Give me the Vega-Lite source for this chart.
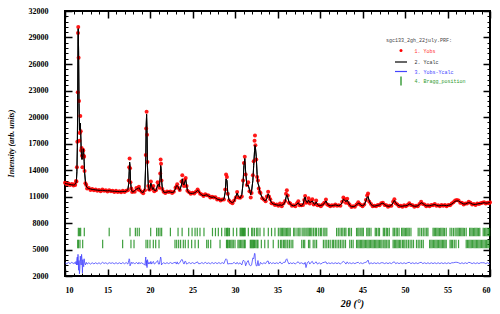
{
"$schema": "https://vega.github.io/schema/vega-lite/v6.json",
"width": 425, "height": 265,
"autosize": {"type": "none"},
"padding": {"left": 65, "top": 11, "right": 10, "bottom": 38},
"background": "white",
"config": {"view": {"stroke": "black", "strokeWidth": 2}, "legend": {"orient": "none", "padding": 0, "labelFont": "Liberation Mono", "labelFontSize": 5, "titleFont": "Liberation Mono", "titleFontSize": 5, "titleFontWeight": "normal", "titleColor": "#444444", "symbolOpacity": 1, "symbolStrokeWidth": 1.2, "legendX": 321}},
"datasets": {
"pat": [
{"t":10.0,"c":12500,"o":12550,"d":3500},{"t":10.2,"c":12450,"o":12380,"d":3380},{"t":10.4,"c":12400,"o":12480,"d":3530},{"t":10.6,"c":12350,"o":12300,"d":3400},{"t":10.8,"c":12320,"o":12420,"d":3550},{"t":11.0,"c":12300,"o":12250,"d":3400},{"t":11.1,"c":12320,"o":12400,"d":3530},{"t":11.2,"c":12380,"o":12300,"d":3370},{"t":11.3,"c":12550,"o":12750,"d":3650},{"t":11.35,"c":12900,"o":12700,"d":3250},{"t":11.4,"c":13800,"o":14300,"d":3950},{"t":11.45,"c":16500,"o":17200,"d":4150},{"t":11.5,"c":23000,"o":22800,"d":3250},{"t":11.53,"c":28500,"o":29500,"d":4450},{"t":11.56,"c":30000,"o":30200,"d":3650},{"t":11.6,"c":27500,"o":26700,"d":2650},{"t":11.65,"c":21500,"o":21800,"d":3750},{"t":11.7,"c":18500,"o":17300,"d":2250},{"t":11.75,"c":18800,"o":18200,"d":2850},{"t":11.8,"c":19300,"o":20100,"d":4250},{"t":11.85,"c":18200,"o":18400,"d":3650},{"t":11.9,"c":16400,"o":16200,"d":3250},{"t":11.95,"c":15500,"o":16500,"d":4450},{"t":12.0,"c":15200,"o":15600,"d":3850},{"t":12.05,"c":15400,"o":14300,"d":2350},{"t":12.1,"c":15900,"o":16300,"d":3850},{"t":12.15,"c":16400,"o":16200,"d":3250},{"t":12.2,"c":16000,"o":15600,"d":3050},{"t":12.25,"c":15000,"o":15500,"d":3950},{"t":12.3,"c":13800,"o":13900,"d":3550},{"t":12.4,"c":12700,"o":12500,"d":3250},{"t":12.5,"c":12200,"o":12300,"d":3550},{"t":12.6,"c":12000,"o":11900,"d":3350},{"t":12.8,"c":11900,"o":11950,"d":3500},
{"t":13.0,"c":11850,"o":11750,"d":3350},{"t":13.2,"c":11800,"o":11850,"d":3500},{"t":13.4,"c":11780,"o":11700,"d":3370},{"t":13.6,"c":11750,"o":11800,"d":3500},{"t":13.8,"c":11720,"o":11650,"d":3380},{"t":14.0,"c":11700,"o":11750,"d":3500},{"t":14.2,"c":11690,"o":11600,"d":3360},{"t":14.4,"c":11700,"o":11800,"d":3550},{"t":14.6,"c":11680,"o":11650,"d":3420},{"t":14.8,"c":11650,"o":11700,"d":3500},{"t":15.0,"c":11640,"o":11560,"d":3370},{"t":15.2,"c":11660,"o":11720,"d":3510},{"t":15.4,"c":11620,"o":11600,"d":3430},{"t":15.6,"c":11600,"o":11650,"d":3500},{"t":15.8,"c":11590,"o":11520,"d":3380},{"t":16.0,"c":11580,"o":11640,"d":3510},{"t":16.2,"c":11560,"o":11500,"d":3390},{"t":16.4,"c":11550,"o":11600,"d":3500},{"t":16.6,"c":11540,"o":11470,"d":3380},{"t":16.8,"c":11580,"o":11650,"d":3520},{"t":17.0,"c":11560,"o":11500,"d":3390},{"t":17.2,"c":11580,"o":11650,"d":3520},{"t":17.4,"c":11800,"o":11700,"d":3350},{"t":17.5,"c":12500,"o":12800,"d":3750},{"t":17.55,"c":13800,"o":14300,"d":3950},{"t":17.6,"c":14900,"o":15300,"d":3850},{"t":17.65,"c":14500,"o":14200,"d":3150},{"t":17.7,"c":12800,"o":12600,"d":3250},{"t":17.8,"c":11800,"o":11900,"d":3550},{"t":17.9,"c":11550,"o":11500,"d":3400},{"t":18.0,"c":11500,"o":11600,"d":3550},{"t":18.2,"c":11650,"o":11550,"d":3350},{"t":18.4,"c":11850,"o":11950,"d":3550},{"t":18.6,"c":11900,"o":11800,"d":3350},{"t":18.7,"c":12000,"o":12100,"d":3550},{"t":18.8,"c":11800,"o":11750,"d":3400},{"t":19.0,"c":11500,"o":11550,"d":3500},{"t":19.2,"c":11450,"o":11380,"d":3380},{"t":19.4,"c":11900,"o":11700,"d":3250},{"t":19.5,"c":15000,"o":15700,"d":4150},{"t":19.55,"c":19000,"o":18700,"d":3150},{"t":19.6,"c":20300,"o":20600,"d":3750},{"t":19.65,"c":18500,"o":18000,"d":2950},{"t":19.7,"c":14500,"o":14900,"d":3850},{"t":19.8,"c":12300,"o":12200,"d":3350},{"t":19.9,"c":11700,"o":11800,"d":3550},
{"t":20.0,"c":11900,"o":11800,"d":3350},{"t":20.1,"c":12500,"o":12700,"d":3650},{"t":20.2,"c":12200,"o":12100,"d":3350},{"t":20.3,"c":11800,"o":11900,"d":3550},{"t":20.4,"c":12000,"o":12200,"d":3650},{"t":20.5,"c":11700,"o":11600,"d":3350},{"t":20.7,"c":11650,"o":11700,"d":3500},{"t":20.9,"c":12300,"o":12600,"d":3750},{"t":21.0,"c":12400,"o":12300,"d":3350},{"t":21.1,"c":12100,"o":12000,"d":3350},{"t":21.2,"c":13200,"o":13600,"d":3850},{"t":21.25,"c":14500,"o":15200,"d":4150},{"t":21.3,"c":14200,"o":14700,"d":3950},{"t":21.35,"c":13000,"o":12800,"d":3250},{"t":21.45,"c":11900,"o":11850,"d":3400},{"t":21.6,"c":11500,"o":11550,"d":3500},{"t":21.8,"c":11450,"o":11400,"d":3400},{"t":22.0,"c":11500,"o":11560,"d":3510},{"t":22.2,"c":11550,"o":11500,"d":3400},{"t":22.4,"c":11500,"o":11580,"d":3530},{"t":22.6,"c":11450,"o":11400,"d":3400},{"t":22.8,"c":11500,"o":11550,"d":3500},{"t":23.0,"c":11900,"o":12000,"d":3550},{"t":23.1,"c":12200,"o":12100,"d":3350},{"t":23.2,"c":12250,"o":12400,"d":3600},{"t":23.3,"c":12100,"o":12000,"d":3350},{"t":23.5,"c":11700,"o":11750,"d":3500},{"t":23.7,"c":12300,"o":12700,"d":3850},{"t":23.8,"c":13000,"o":13400,"d":3850},{"t":23.9,"c":12400,"o":12500,"d":3550},{"t":24.0,"c":12300,"o":12200,"d":3350},{"t":24.1,"c":12700,"o":12900,"d":3650},{"t":24.2,"c":12900,"o":13100,"d":3650},{"t":24.3,"c":12300,"o":12200,"d":3350},{"t":24.4,"c":11700,"o":11650,"d":3400},{"t":24.6,"c":11400,"o":11480,"d":3530},{"t":24.8,"c":11350,"o":11300,"d":3400},{"t":25.0,"c":11350,"o":11420,"d":3520},{"t":25.2,"c":11400,"o":11350,"d":3400},{"t":25.4,"c":11500,"o":11550,"d":3500},{"t":25.6,"c":11700,"o":11800,"d":3600},{"t":25.7,"c":11650,"o":11600,"d":3400},{"t":25.9,"c":11350,"o":11300,"d":3400},{"t":26.1,"c":11150,"o":11220,"d":3520},{"t":26.3,"c":11100,"o":11050,"d":3400},{"t":26.5,"c":11150,"o":11250,"d":3550},{"t":26.7,"c":11200,"o":11150,"d":3400},{"t":26.9,"c":11050,"o":11100,"d":3500},{"t":27.1,"c":10950,"o":10880,"d":3380},{"t":27.3,"c":10900,"o":10980,"d":3530},{"t":27.5,"c":10950,"o":10900,"d":3400},{"t":27.7,"c":10850,"o":10920,"d":3520},{"t":27.9,"c":10700,"o":10650,"d":3400},{"t":28.1,"c":10650,"o":10720,"d":3520},{"t":28.3,"c":10600,"o":10550,"d":3400},{"t":28.5,"c":10580,"o":10650,"d":3520},{"t":28.7,"c":10700,"o":10650,"d":3400},{"t":28.85,"c":11500,"o":11800,"d":3800},{"t":28.95,"c":13000,"o":13500,"d":3950},{"t":29.05,"c":12800,"o":13200,"d":3850},{"t":29.15,"c":11400,"o":11300,"d":3350},{"t":29.3,"c":10600,"o":10550,"d":3400},{"t":29.5,"c":10400,"o":10350,"d":3400},{"t":29.7,"c":10300,"o":10250,"d":3400},{"t":29.9,"c":10450,"o":10550,"d":3550},
{"t":30.1,"c":11000,"o":10900,"d":3350},{"t":30.25,"c":11400,"o":11500,"d":3550},{"t":30.4,"c":11000,"o":10900,"d":3350},{"t":30.6,"c":10800,"o":10850,"d":3500},{"t":30.8,"c":11200,"o":11000,"d":3250},{"t":30.95,"c":12500,"o":12800,"d":3750},{"t":31.05,"c":14500,"o":14800,"d":3750},{"t":31.15,"c":15300,"o":15500,"d":3650},{"t":31.25,"c":13800,"o":13500,"d":3150},{"t":31.4,"c":12200,"o":12300,"d":3550},{"t":31.55,"c":12300,"o":12600,"d":3750},{"t":31.7,"c":11800,"o":11600,"d":3250},{"t":31.85,"c":11200,"o":10900,"d":3150},{"t":31.95,"c":11600,"o":11400,"d":3250},{"t":32.1,"c":12800,"o":13400,"d":4050},{"t":32.2,"c":14500,"o":15000,"d":3950},{"t":32.3,"c":16200,"o":17300,"d":4550},{"t":32.35,"c":16800,"o":17900,"d":4550},{"t":32.4,"c":16600,"o":16800,"d":3650},{"t":32.5,"c":15500,"o":15200,"d":3150},{"t":32.6,"c":13500,"o":13200,"d":3150},{"t":32.7,"c":12500,"o":12800,"d":3750},{"t":32.8,"c":12200,"o":11900,"d":3150},{"t":32.9,"c":11700,"o":11500,"d":3250},{"t":33.0,"c":11300,"o":11400,"d":3550},{"t":33.2,"c":10900,"o":10800,"d":3350},{"t":33.4,"c":10600,"o":10650,"d":3500},{"t":33.6,"c":10500,"o":10450,"d":3400},{"t":33.75,"c":10800,"o":11000,"d":3650},{"t":33.9,"c":11300,"o":11550,"d":3700},{"t":34.0,"c":11100,"o":11000,"d":3350},{"t":34.15,"c":10600,"o":10700,"d":3550},{"t":34.3,"c":10300,"o":10250,"d":3400},{"t":34.5,"c":10150,"o":10200,"d":3500},{"t":34.7,"c":10100,"o":10050,"d":3400},{"t":34.9,"c":10050,"o":10100,"d":3500},{"t":35.1,"c":10000,"o":9950,"d":3400},{"t":35.3,"c":10050,"o":10200,"d":3600},{"t":35.5,"c":10000,"o":9900,"d":3350},{"t":35.7,"c":10100,"o":10200,"d":3550},{"t":35.9,"c":10400,"o":10500,"d":3550},{"t":36.0,"c":10900,"o":11300,"d":3850},{"t":36.1,"c":11200,"o":11700,"d":3950},{"t":36.2,"c":10900,"o":11100,"d":3650},{"t":36.35,"c":10400,"o":10300,"d":3350},{"t":36.5,"c":10150,"o":10200,"d":3500},{"t":36.7,"c":10000,"o":9950,"d":3400},{"t":36.9,"c":9950,"o":10000,"d":3500},{"t":37.1,"c":10000,"o":9900,"d":3350},{"t":37.3,"c":10150,"o":10250,"d":3550},{"t":37.45,"c":10300,"o":10450,"d":3600},{"t":37.6,"c":10050,"o":10000,"d":3400},{"t":37.8,"c":9950,"o":10000,"d":3500},{"t":38.0,"c":10100,"o":10050,"d":3400},{"t":38.15,"c":10700,"o":10600,"d":3350},{"t":38.25,"c":10950,"o":11050,"d":3550},{"t":38.35,"c":10500,"o":10300,"d":2950},{"t":38.5,"c":10300,"o":10350,"d":3500},{"t":38.65,"c":10600,"o":10800,"d":3650},{"t":38.8,"c":10300,"o":10200,"d":3350},{"t":38.95,"c":10400,"o":10500,"d":3550},{"t":39.1,"c":10500,"o":10700,"d":3650},{"t":39.25,"c":10200,"o":10100,"d":3350},{"t":39.4,"c":10100,"o":10150,"d":3500},{"t":39.55,"c":10400,"o":10550,"d":3600},{"t":39.7,"c":10100,"o":10000,"d":3350},{"t":39.9,"c":9950,"o":10000,"d":3500},
{"t":40.1,"c":10000,"o":9900,"d":3350},{"t":40.3,"c":10050,"o":10100,"d":3500},{"t":40.5,"c":10200,"o":10300,"d":3550},{"t":40.7,"c":10500,"o":10650,"d":3600},{"t":40.85,"c":10200,"o":10100,"d":3350},{"t":41.0,"c":10000,"o":10050,"d":3500},{"t":41.2,"c":9950,"o":9900,"d":3400},{"t":41.4,"c":9950,"o":10000,"d":3500},{"t":41.6,"c":10000,"o":9950,"d":3400},{"t":41.8,"c":10050,"o":10100,"d":3500},{"t":42.0,"c":10000,"o":9950,"d":3400},{"t":42.2,"c":9950,"o":10000,"d":3500},{"t":42.4,"c":10050,"o":9950,"d":3350},{"t":42.6,"c":10300,"o":10400,"d":3550},{"t":42.75,"c":10700,"o":10900,"d":3650},{"t":42.9,"c":10600,"o":10700,"d":3550},{"t":43.05,"c":10400,"o":10300,"d":3350},{"t":43.2,"c":10600,"o":10750,"d":3600},{"t":43.35,"c":10300,"o":10250,"d":3400},{"t":43.5,"c":10000,"o":10050,"d":3500},{"t":43.7,"c":9850,"o":9800,"d":3400},{"t":43.9,"c":9850,"o":9900,"d":3500},{"t":44.1,"c":9900,"o":9850,"d":3400},{"t":44.3,"c":10050,"o":10100,"d":3500},{"t":44.5,"c":10250,"o":10350,"d":3550},{"t":44.65,"c":10200,"o":10150,"d":3400},{"t":44.8,"c":10000,"o":10050,"d":3500},{"t":45.0,"c":9950,"o":9900,"d":3400},{"t":45.2,"c":10050,"o":10100,"d":3500},{"t":45.4,"c":10500,"o":10600,"d":3550},{"t":45.55,"c":10900,"o":11100,"d":3650},{"t":45.65,"c":11000,"o":11350,"d":3800},{"t":45.8,"c":10500,"o":10400,"d":3350},{"t":46.0,"c":10100,"o":10150,"d":3500},{"t":46.2,"c":9950,"o":9900,"d":3400},{"t":46.4,"c":9900,"o":9950,"d":3500},{"t":46.6,"c":9950,"o":9900,"d":3400},{"t":46.8,"c":10000,"o":10050,"d":3500},{"t":47.0,"c":10050,"o":10000,"d":3400},{"t":47.2,"c":10200,"o":10250,"d":3500},{"t":47.4,"c":10250,"o":10300,"d":3500},{"t":47.6,"c":10100,"o":10050,"d":3400},{"t":47.8,"c":9950,"o":10000,"d":3500},{"t":48.0,"c":9900,"o":9850,"d":3400},{"t":48.2,"c":9900,"o":9950,"d":3500},{"t":48.4,"c":10000,"o":9950,"d":3400},{"t":48.6,"c":10300,"o":10400,"d":3550},{"t":48.75,"c":10550,"o":10700,"d":3600},{"t":48.9,"c":10300,"o":10250,"d":3400},{"t":49.1,"c":10050,"o":10100,"d":3500},{"t":49.3,"c":9950,"o":9900,"d":3400},{"t":49.5,"c":9900,"o":9950,"d":3500},{"t":49.7,"c":9900,"o":9850,"d":3400},{"t":49.9,"c":9950,"o":10000,"d":3500},
{"t":50.1,"c":9950,"o":9900,"d":3400},{"t":50.3,"c":10000,"o":10050,"d":3500},{"t":50.5,"c":10150,"o":10250,"d":3550},{"t":50.7,"c":10100,"o":10050,"d":3400},{"t":50.9,"c":9950,"o":10000,"d":3500},{"t":51.1,"c":9900,"o":9850,"d":3400},{"t":51.3,"c":9900,"o":9950,"d":3500},{"t":51.5,"c":9950,"o":9900,"d":3400},{"t":51.7,"c":10100,"o":10150,"d":3500},{"t":51.9,"c":10300,"o":10400,"d":3550},{"t":52.1,"c":10200,"o":10150,"d":3400},{"t":52.3,"c":10050,"o":10100,"d":3500},{"t":52.5,"c":9950,"o":9900,"d":3400},{"t":52.7,"c":9950,"o":10000,"d":3500},{"t":52.9,"c":9950,"o":9900,"d":3400},{"t":53.1,"c":10000,"o":10050,"d":3500},{"t":53.3,"c":10050,"o":10000,"d":3400},{"t":53.5,"c":10100,"o":10150,"d":3500},{"t":53.7,"c":10000,"o":9950,"d":3400},{"t":53.9,"c":9950,"o":10000,"d":3500},{"t":54.1,"c":9950,"o":9900,"d":3400},{"t":54.3,"c":10000,"o":10050,"d":3500},{"t":54.5,"c":10000,"o":9950,"d":3400},{"t":54.7,"c":10000,"o":10050,"d":3500},{"t":54.9,"c":9950,"o":9900,"d":3400},{"t":55.1,"c":10000,"o":10050,"d":3500},{"t":55.3,"c":10050,"o":10000,"d":3400},{"t":55.5,"c":10150,"o":10200,"d":3500},{"t":55.7,"c":10300,"o":10350,"d":3500},{"t":55.9,"c":10450,"o":10550,"d":3550},{"t":56.1,"c":10500,"o":10600,"d":3550},{"t":56.3,"c":10500,"o":10550,"d":3500},{"t":56.5,"c":10350,"o":10300,"d":3400},{"t":56.7,"c":10250,"o":10300,"d":3500},{"t":56.9,"c":10150,"o":10100,"d":3400},{"t":57.1,"c":10150,"o":10200,"d":3500},{"t":57.3,"c":10250,"o":10200,"d":3400},{"t":57.5,"c":10300,"o":10400,"d":3550},{"t":57.7,"c":10250,"o":10300,"d":3500},{"t":57.9,"c":10150,"o":10100,"d":3400},{"t":58.1,"c":10100,"o":10150,"d":3500},{"t":58.3,"c":10100,"o":10050,"d":3400},{"t":58.5,"c":10150,"o":10200,"d":3500},{"t":58.7,"c":10200,"o":10150,"d":3400},{"t":58.9,"c":10200,"o":10250,"d":3500},{"t":59.1,"c":10250,"o":10300,"d":3500},{"t":59.3,"c":10300,"o":10350,"d":3500},{"t":59.5,"c":10250,"o":10200,"d":3400},{"t":59.7,"c":10250,"o":10300,"d":3500},{"t":59.9,"c":10300,"o":10250,"d":3400},{"t":60.0,"c":10300,"o":10350,"d":3450}
],
"b1": [
{"t":11.57},{"t":11.7},{"t":11.84},{"t":12.27},{"t":15.2},{"t":17.65},{"t":18.28},{"t":18.5},{"t":18.74},{"t":20.08},{"t":20.78},{"t":20.98},{"t":21.18},{"t":21.37},{"t":22.4},{"t":23.3},{"t":23.78},{"t":24.55},{"t":24.95},{"t":25.3},{"t":25.56},{"t":25.88},{"t":26.35},{"t":27.35},{"t":27.7},{"t":28.04},{"t":28.43},{"t":28.82},{"t":29.0},{"t":29.1},{"t":29.2},{"t":29.35},{"t":29.8},{"t":30.2},{"t":30.6},{"t":30.7},{"t":30.8},{"t":30.9},{"t":31.0},{"t":31.1},{"t":31.2},{"t":31.57},{"t":31.96},{"t":32.1},{"t":32.3},{"t":32.55},{"t":32.7},{"t":32.94},{"t":33.41},{"t":33.92},{"t":34.3},{"t":34.7},{"t":35.1},
{"t":35.3},{"t":35.45},{"t":35.6},{"t":35.75},{"t":35.9},{"t":36.05},{"t":36.2},{"t":36.35},{"t":36.5},{"t":36.9},{"t":37.05},{"t":37.3},{"t":37.5},{"t":37.65},{"t":37.9},{"t":38.1},{"t":38.25},{"t":38.45},{"t":38.6},{"t":38.75},{"t":38.9},{"t":39.05},{"t":39.25},{"t":39.45},{"t":39.6},{"t":39.85},{"t":40.05},{"t":40.2},{"t":40.45},{"t":40.6},{"t":40.8},{"t":41.95},{"t":42.15},{"t":42.35},{"t":42.55},{"t":42.7},{"t":42.9},{"t":43.05},{"t":43.35},{"t":43.5},{"t":43.7},{"t":44.3},{"t":44.45},{"t":44.6},{"t":44.8},{"t":44.95},{"t":45.1},{"t":45.5},{"t":45.65},{"t":45.8},{"t":46.0},{"t":46.5},{"t":46.65},{"t":46.85},{"t":47.0},{"t":47.45},{"t":47.6},{"t":47.8},{"t":47.95},{"t":48.15},{"t":48.6},{"t":48.75},{"t":48.95},{"t":49.1},{"t":49.3},{"t":49.6},{"t":49.75},{"t":49.9},{"t":50.05},{"t":50.2},{"t":50.35},{"t":50.5},{"t":50.7},{"t":51.55},{"t":51.75},{"t":51.95},{"t":52.15},{"t":52.35},{"t":52.55},{"t":52.7},{"t":53.3},{"t":53.45},{"t":53.6},{"t":53.75},{"t":53.9},{"t":54.05},{"t":54.2},{"t":54.35},{"t":54.5},{"t":54.65},{"t":54.85},{"t":55.3},{"t":55.5},{"t":55.7},{"t":55.9},{"t":56.1},{"t":56.25},{"t":56.4},{"t":56.55},{"t":56.7},{"t":56.85},{"t":57.0},{"t":57.2},{"t":57.6},{"t":57.75},{"t":57.9},{"t":58.05},{"t":58.2},{"t":58.35},{"t":58.5},{"t":58.65},{"t":58.8},{"t":59.2},{"t":59.35},{"t":59.5},{"t":59.65},{"t":59.8},{"t":59.95}
],
"b2": [
{"t":11.5},{"t":11.57},{"t":11.76},{"t":12.08},{"t":14.43},{"t":16.78},{"t":17.76},{"t":18.12},{"t":19.53},{"t":19.73},{"t":20.0},{"t":20.39},{"t":20.67},{"t":21.06},{"t":22.94},{"t":23.14},{"t":23.37},{"t":23.6},{"t":23.92},{"t":24.15},{"t":24.5},{"t":24.9},{"t":25.3},{"t":25.69},{"t":26.67},{"t":26.86},{"t":27.14},{"t":28.24},{"t":29.0},{"t":29.1},{"t":29.2},{"t":29.35},{"t":29.5},{"t":29.65},{"t":29.8},{"t":30.0},{"t":30.35},{"t":30.5},{"t":30.65},{"t":30.8},{"t":30.95},{"t":31.1},{"t":31.2},{"t":31.8},{"t":31.9},{"t":32.0},{"t":32.1},{"t":32.2},{"t":32.3},{"t":32.45},{"t":32.6},{"t":32.7},{"t":33.1},{"t":33.5},{"t":33.9},{"t":34.5},{"t":35.1},
{"t":35.35},{"t":35.5},{"t":35.7},{"t":35.85},{"t":36.0},{"t":36.2},{"t":36.4},{"t":36.6},{"t":36.8},{"t":37.85},{"t":38.05},{"t":38.2},{"t":38.65},{"t":38.8},{"t":39.2},{"t":39.4},{"t":39.6},{"t":40.4},{"t":40.6},{"t":40.8},{"t":41.0},{"t":41.2},{"t":41.45},{"t":41.6},{"t":41.8},{"t":42.0},{"t":42.2},{"t":42.4},{"t":42.6},{"t":42.8},{"t":43.0},{"t":43.5},{"t":43.7},{"t":43.9},{"t":44.3},{"t":44.45},{"t":44.6},{"t":44.75},{"t":44.9},{"t":45.05},{"t":45.2},{"t":45.35},{"t":45.5},{"t":45.65},{"t":45.8},{"t":45.95},{"t":46.1},{"t":46.25},{"t":46.4},{"t":46.55},{"t":46.7},{"t":46.85},{"t":47.0},{"t":47.15},{"t":47.3},{"t":47.5},{"t":47.65},{"t":47.8},{"t":48.0},{"t":48.15},{"t":48.6},{"t":48.75},{"t":48.9},{"t":49.05},{"t":49.2},{"t":49.35},{"t":49.5},{"t":49.7},{"t":49.85},{"t":50.0},{"t":50.2},{"t":50.4},{"t":50.6},{"t":50.8},{"t":51.0},{"t":51.35},{"t":51.55},{"t":51.75},{"t":51.95},{"t":52.15},{"t":52.9},{"t":53.05},{"t":53.2},{"t":53.35},{"t":53.5},{"t":53.65},{"t":53.8},{"t":53.95},{"t":54.1},{"t":54.25},{"t":54.4},{"t":54.55},{"t":54.7},{"t":54.85},{"t":55.3},{"t":55.45},{"t":55.6},{"t":55.8},{"t":56.0},{"t":56.3},{"t":57.2},{"t":57.35},{"t":57.5},{"t":57.65},{"t":57.8},{"t":57.95},{"t":58.1},{"t":58.25},{"t":58.4},{"t":58.55},{"t":58.7},{"t":58.85},{"t":59.0},{"t":59.15},{"t":59.3},{"t":59.45},{"t":59.6},{"t":59.75},{"t":59.9}
]
},
"resolve": {"axis": {"x": "independent", "y": "independent"}, "scale": {"color": "independent"}, "legend": {"color": "independent"}},
"layer": [
{
"data": {"name": "pat"},
"mark": {"type": "line", "strokeWidth": 1, "color": "#000000"},
"encoding": {
"x": {"field": "t", "type": "quantitative", "scale": {"domain": [10, 60], "nice": false, "zero": false},
 "axis": {"orient": "bottom", "values": [11,12,13,14,16,17,18,19,21,22,23,24,26,27,28,29,31,32,33,34,36,37,38,39,41,42,43,44,46,47,48,49,51,52,53,54,56,57,58,59], "domain": false, "grid": false, "labels": false, "tickSize": -3, "tickWidth": 1, "tickColor": "black", "title": null}},
"y": {"field": "c", "type": "quantitative", "scale": {"domain": [2000, 32000], "nice": false, "zero": false},
 "axis": {"orient": "left", "values": [2600,3200,3800,4400,5600,6200,6800,7400,8600,9200,9800,10400,11600,12200,12800,13400,14600,15200,15800,16400,17600,18200,18800,19400,20600,21200,21800,22400,23600,24200,24800,25400,26600,27200,27800,28400,29600,30200,30800,31400], "domain": false, "grid": false, "labels": false, "tickSize": -3, "tickWidth": 1, "tickColor": "black", "title": null}}
}
},
{
"data": {"name": "pat"},
"mark": {"type": "point", "filled": true, "size": 16, "opacity": 0.9},
"encoding": {
"x": {"field": "t", "type": "quantitative", "scale": {"domain": [10, 60], "nice": false, "zero": false},
 "axis": {"orient": "bottom", "values": [10,15,20,25,30,35,40,45,50,55,60], "domain": false, "grid": false, "tickSize": -7, "tickWidth": 1.5, "tickColor": "black", "labelPadding": 17, "labelFont": "Liberation Serif", "labelFontWeight": "bold", "labelFontSize": 8, "labelColor": "black", "title": "2θ (°)", "titleFont": "Liberation Serif", "titleFontStyle": "italic", "titleFontWeight": "bold", "titleFontSize": 10, "titleColor": "black", "titleX": 287, "titleY": 27, "titleBaseline": "middle", "titleAlign": "center"}},
"y": {"field": "o", "type": "quantitative", "scale": {"domain": [2000, 32000], "nice": false, "zero": false},
 "axis": {"orient": "left", "values": [2000,5000,8000,11000,14000,17000,20000,23000,26000,29000,32000], "format": "d", "domain": false, "grid": false, "tickSize": -7, "tickWidth": 1.5, "tickColor": "black", "labelPadding": 24, "labelFont": "Liberation Serif", "labelFontWeight": "bold", "labelFontSize": 8, "labelColor": "black", "title": "Intensity (arb. units)", "titleFont": "Liberation Serif", "titleFontStyle": "italic", "titleFontWeight": "bold", "titleFontSize": 8, "titleColor": "black", "titleX": -54, "titleY": 132, "titleBaseline": "middle", "titleAlign": "center", "titleAngle": -90}},
"color": {"datum": "1. Yobs", "type": "nominal", "scale": {"range": ["#ff0000"]},
 "legend": {"legendY": 27, "title": "sgc133_2gh_22july.PRF:", "titlePadding": 5, "symbolType": "circle", "symbolSize": 9, "symbolOffset": 12.5, "labelOffset": 11, "labelColor": "#ff3333"}}
}
},
{
"data": {"name": "pat"},
"mark": {"type": "line", "strokeWidth": 1},
"encoding": {
"x": {"field": "t", "type": "quantitative", "scale": {"domain": [10, 60], "nice": false, "zero": false}, "axis": null},
"y": {"field": "c", "type": "quantitative", "scale": {"domain": [2000, 32000], "nice": false, "zero": false}, "axis": null},
"color": {"datum": "2. Ycalc", "type": "nominal", "scale": {"range": ["#000000"]},
 "legend": {"legendY": 44, "title": null, "symbolType": "stroke", "symbolSize": 144, "symbolOffset": 8, "labelOffset": 6.5, "labelColor": "#333333"}}
}
},
{
"data": {"name": "pat"},
"mark": {"type": "line", "strokeWidth": 0.8},
"encoding": {
"x": {"field": "t", "type": "quantitative", "scale": {"domain": [10, 60], "nice": false, "zero": false},
 "axis": {"orient": "top", "values": [10,15,20,25,30,35,40,45,50,55,60], "domain": false, "grid": false, "labels": false, "tickSize": -7, "tickWidth": 1.5, "tickColor": "black", "title": null}},
"y": {"field": "d", "type": "quantitative", "scale": {"domain": [2000, 32000], "nice": false, "zero": false},
 "axis": {"orient": "right", "values": [2000,5000,8000,11000,14000,17000,20000,23000,26000,29000,32000], "domain": false, "grid": false, "labels": false, "tickSize": -7, "tickWidth": 1.5, "tickColor": "black", "title": null}},
"color": {"datum": "3. Yobs-Ycalc", "type": "nominal", "scale": {"range": ["#4444ff"]},
 "legend": {"legendY": 53.5, "title": null, "symbolType": "stroke", "symbolSize": 144, "symbolOffset": 8, "labelOffset": 6.5, "labelColor": "#4444ff"}}
}
},
{
"data": {"name": "b1"},
"mark": {"type": "rule", "strokeWidth": 1.2, "opacity": 0.8},
"encoding": {
"x": {"field": "t", "type": "quantitative", "scale": {"domain": [10, 60], "nice": false, "zero": false},
 "axis": {"orient": "top", "values": [11,12,13,14,16,17,18,19,21,22,23,24,26,27,28,29,31,32,33,34,36,37,38,39,41,42,43,44,46,47,48,49,51,52,53,54,56,57,58,59], "domain": false, "grid": false, "labels": false, "tickSize": -3, "tickWidth": 1, "tickColor": "black", "title": null}},
"y": {"datum": 7450, "type": "quantitative", "scale": {"domain": [2000, 32000], "nice": false, "zero": false},
 "axis": {"orient": "right", "values": [2600,3200,3800,4400,5600,6200,6800,7400,8600,9200,9800,10400,11600,12200,12800,13400,14600,15200,15800,16400,17600,18200,18800,19400,20600,21200,21800,22400,23600,24200,24800,25400,26600,27200,27800,28400,29600,30200,30800,31400], "domain": false, "grid": false, "labels": false, "tickSize": -3, "tickWidth": 1, "tickColor": "black", "title": null}},
"y2": {"datum": 6500},
"color": {"datum": "4. Bragg_position", "type": "nominal", "scale": {"range": ["#0f870f"]},
 "legend": {"legendY": 64.5, "title": null, "symbolType": "M0,-1L0,1", "symbolSize": 81, "symbolOffset": 9.5, "labelOffset": 8, "labelColor": "#2e9b2e"}}
}
},
{
"data": {"name": "b2"},
"mark": {"type": "rule", "strokeWidth": 1.2, "opacity": 0.8, "color": "#0f870f"},
"encoding": {
"x": {"field": "t", "type": "quantitative", "scale": {"domain": [10, 60], "nice": false, "zero": false}, "axis": null},
"y": {"datum": 6100, "type": "quantitative", "scale": {"domain": [2000, 32000], "nice": false, "zero": false}, "axis": null},
"y2": {"datum": 5150}
}
}
]
}
